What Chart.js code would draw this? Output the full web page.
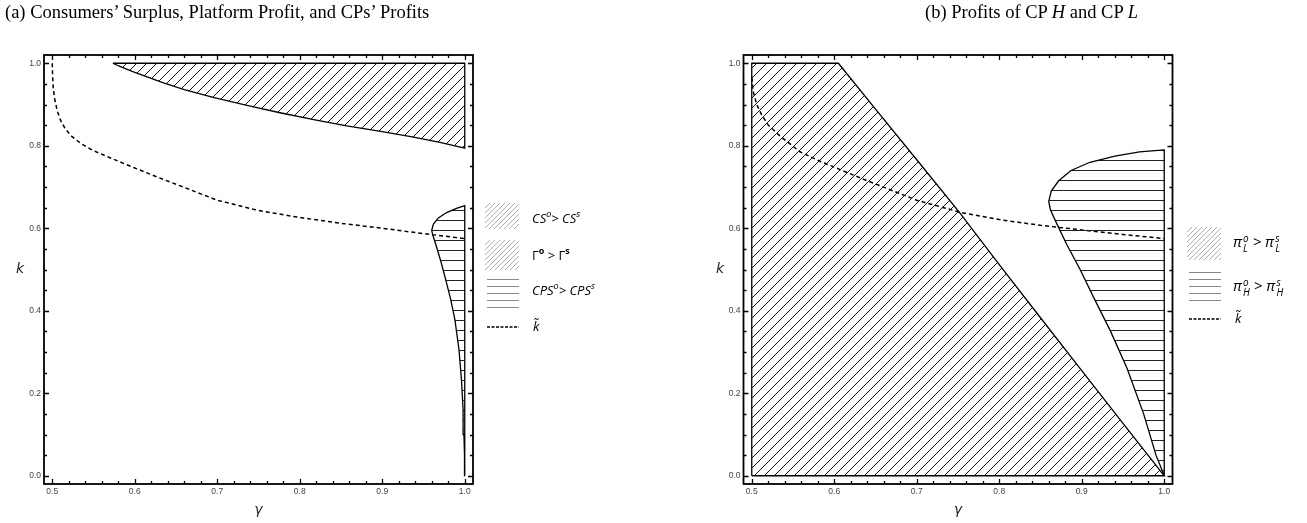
<!DOCTYPE html>
<html><head><meta charset="utf-8">
<script src="https://cdn.jsdelivr.net/npm/chart.js@4.4.0/dist/chart.umd.min.js"></script>
<style>
html,body{margin:0;padding:0;background:#fff;}
body{width:1307px;height:523px;position:relative;overflow:hidden;}
canvas{position:absolute;top:0;}
.title{position:absolute;top:1px;font-family:"Liberation Serif",serif;font-size:18.5px;line-height:22px;color:#000;white-space:nowrap;}
.leg{position:absolute;font-family:"Open Sans","DejaVu Sans",sans-serif;font-style:italic;font-size:13px;line-height:16px;color:#000;white-space:nowrap;}
.leg sup{font-size:9px;vertical-align:6px;line-height:0;}
.up{font-style:normal;}
.up sup{font-weight:bold;}
.pi{font-size:15px;}
.ss{display:inline-block;vertical-align:-5px;line-height:10px;font-size:10px;margin-left:1px;}
.ss span{display:block;}
.klab{position:absolute;font-family:"DejaVu Sans",sans-serif;font-style:italic;font-size:14px;color:#222;}
</style></head>
<body>
<canvas id="ca" width="650" height="523" style="left:0"></canvas>
<canvas id="cb" width="657" height="523" style="left:650px"></canvas>
<div class="title" style="left:5px">(a) Consumers’ Surplus, Platform Profit, and CPs’ Profits</div>
<div class="title" style="left:925px">(b) Profits of CP <i>H</i> and CP <i>L</i></div>
<div class="klab" style="left:16px;top:260px">k</div>
<div class="klab" style="left:716px;top:260px">k</div>

<canvas id="la1" width="34" height="26" style="left:485px;top:203px"></canvas>
<canvas id="la2" width="34" height="30" style="left:485px;top:240px"></canvas>
<canvas id="la3" width="34" height="32" style="left:485px;top:277px"></canvas>
<canvas id="la4" width="34" height="6" style="left:485px;top:324px"></canvas>
<div class="leg" style="left:532px;top:210px">CS<sup>o</sup>&gt; CS<sup>s</sup></div>
<div class="leg up" style="left:532px;top:247px">Γ<sup>o</sup> &gt; Γ<sup>s</sup></div>
<div class="leg" style="left:532px;top:282px">CPS<sup>o</sup>&gt; CPS<sup>s</sup></div>
<div class="leg" style="left:533px;top:318px">k&#771;</div>

<canvas id="lb1" width="34" height="33" style="left:1187px;top:227px"></canvas>
<canvas id="lb2" width="34" height="32" style="left:1187px;top:270px"></canvas>
<canvas id="lb3" width="34" height="6" style="left:1187px;top:316px"></canvas>
<div class="leg pi" style="left:1233px;top:233px">π<span class="ss"><span>o</span><span>L</span></span> &gt; π<span class="ss"><span>s</span><span>L</span></span></div>
<div class="leg pi" style="left:1233px;top:277px">π<span class="ss"><span>o</span><span>H</span></span> &gt; π<span class="ss"><span>s</span><span>H</span></span></div>
<div class="leg" style="left:1235px;top:310px">k&#771;</div>

<script>
// ---------- tick values / labels ----------
const gammaTicks = [0.5, 0.6, 0.7, 0.8, 0.9, 1.0];
const xTickLabels = ['0.5', '0.6', '0.7', '0.8', '0.9', '1.0'];
const kTicks = [0.0, 0.2, 0.4, 0.6, 0.8, 1.0];
const yTickLabels = ['0.0', '0.2', '0.4', '0.6', '0.8', '1.0'];

// ---------- panel (a) ----------
// k-tilde dashed curve
const kTildeA_gamma = [0.5, 0.5004, 0.5012, 0.5028, 0.506, 0.51, 0.516, 0.524, 0.535, 0.55, 0.57, 0.6, 0.63, 0.66, 0.7, 0.75, 0.8, 0.85, 0.9, 0.95, 1.0];
const kTildeA_k     = [1.0, 0.97, 0.94, 0.915, 0.885, 0.862, 0.84, 0.822, 0.805, 0.788, 0.771, 0.746, 0.722, 0.699, 0.668, 0.643, 0.626, 0.612, 0.600, 0.587, 0.575];
// lower boundary of CS^o > CS^s and Γ^o > Γ^s region (upper region)
const csBound_gamma = [0.5735, 0.58, 0.59, 0.6, 0.615, 0.634, 0.66, 0.695, 0.74, 0.776, 0.82, 0.857, 0.9, 0.938, 0.97, 1.0];
const csBound_k     = [1.0, 0.994, 0.986, 0.978, 0.967, 0.953, 0.936, 0.917, 0.896, 0.880, 0.862, 0.848, 0.834, 0.821, 0.808, 0.794];
// left boundary of CPS^o > CPS^s region (from k = 0 upward)
const cpsBound_gamma = [1.0, 0.9997, 0.999, 0.998, 0.996, 0.993, 0.988, 0.983, 0.977, 0.971, 0.965, 0.961, 0.960, 0.962, 0.968, 0.978, 0.99, 1.0];
const cpsBound_k     = [0.0, 0.05, 0.1, 0.16, 0.233, 0.306, 0.379, 0.427, 0.475, 0.52, 0.56, 0.585, 0.595, 0.61, 0.625, 0.638, 0.648, 0.655];

// ---------- panel (b) ----------
const kTildeB_gamma = [0.5, 0.502, 0.506, 0.512, 0.52, 0.534, 0.558, 0.582, 0.6, 0.634, 0.7, 0.754, 0.8, 0.85, 0.9, 0.95, 1.0];
const kTildeB_k     = [0.965, 0.93, 0.9, 0.875, 0.85, 0.824, 0.786, 0.763, 0.748, 0.72, 0.668, 0.638, 0.621, 0.607, 0.596, 0.585, 0.575];
// right boundary of pi_L^o > pi_L^s region (from k = 1 down to k = 0)
const piLBound_gamma = [0.605, 0.65, 0.7, 0.752, 0.8, 0.85, 0.9, 0.95, 1.0];
const piLBound_k     = [1.0, 0.889, 0.766, 0.638, 0.512, 0.383, 0.255, 0.127, 0.0];
// left boundary of pi_H^o > pi_H^s region (from k = 0 upward)
const piHBound_gamma = [1.0, 0.99, 0.975, 0.955, 0.935, 0.915, 0.898, 0.882, 0.87, 0.862, 0.86, 0.863, 0.872, 0.887, 0.91, 0.94, 0.97, 1.0];
const piHBound_k     = [0.0, 0.05, 0.15, 0.26, 0.35, 0.43, 0.5, 0.56, 0.61, 0.645, 0.665, 0.69, 0.715, 0.74, 0.76, 0.775, 0.785, 0.79];

// ---------- helpers ----------
const zip = (g, k) => g.map((v, i) => ({x: v, y: k[i]}));

function diagTile(s, color, lw) {
  const c = document.createElement('canvas'); c.width = s; c.height = s;
  const g = c.getContext('2d'); g.strokeStyle = color; g.lineWidth = lw;
  for (const o of [-s, 0, s]) { g.beginPath(); g.moveTo(o, s); g.lineTo(o + s, 0); g.stroke(); }
  return c;
}
function horizTile(s, color, lw) {
  const c = document.createElement('canvas'); c.width = 4; c.height = s;
  const g = c.getContext('2d'); g.fillStyle = color; g.fillRect(0, 0, 4, lw);
  return c;
}
const tmpCtx = document.createElement('canvas').getContext('2d');
const diagPat = tmpCtx.createPattern(diagTile(10, '#111', 1), 'repeat');
const horizPat = tmpCtx.createPattern(horizTile(10, '#222', 1), 'repeat');

// frame + inward ticks on all sides
const framePlugin = {
  id: 'frame',
  afterDatasetsDraw(chart) {
    const {ctx, chartArea: {left, right, top, bottom}, scales: {x, y}} = chart;
    ctx.save();
    ctx.strokeStyle = '#000';
    ctx.lineWidth = 1.3;
    for (let i = 0; i <= 25; i++) {
      const v = 0.5 + i * 0.02, px = Math.round(x.getPixelForValue(v)) + 0.5;
      const len = (i % 5 === 0) ? 5 : 3;
      ctx.beginPath(); ctx.moveTo(px, bottom); ctx.lineTo(px, bottom - len);
      ctx.moveTo(px, top); ctx.lineTo(px, top + len); ctx.stroke();
    }
    for (let i = 0; i <= 20; i++) {
      const v = i * 0.05, py = Math.round(y.getPixelForValue(v)) + 0.5;
      const len = (i % 4 === 0) ? 5 : 3;
      ctx.beginPath(); ctx.moveTo(left, py); ctx.lineTo(left + len, py);
      ctx.moveTo(right, py); ctx.lineTo(right - len, py); ctx.stroke();
    }
    ctx.lineWidth = 1.8;
    ctx.strokeRect(left, top, right - left, bottom - top);
    ctx.restore();
  }
};

function scales() {
  return {
    x: {
      type: 'linear', min: 0.49, max: 1.01,
      afterBuildTicks: s => { s.ticks = gammaTicks.map(v => ({value: v})); },
      afterFit: s => { s.height = 35; },
      ticks: {callback: v => xTickLabels[gammaTicks.indexOf(v)], autoSkip: false, maxRotation: 0,
              font: {family: 'Liberation Sans', size: 8.5}, color: '#444', padding: 3},
      grid: {display: false, drawTicks: false, tickLength: 0},
      border: {display: false},
      title: {display: true, text: 'γ', color: '#222',
              font: {family: 'DejaVu Sans', style: 'italic', size: 14}, padding: {top: 0, bottom: 0}}
    },
    y: {
      type: 'linear', min: -0.02, max: 1.02,
      afterBuildTicks: s => { s.ticks = kTicks.map(v => ({value: v})); },
      afterFit: s => { s.width = 30; },
      ticks: {callback: v => yTickLabels[kTicks.indexOf(v)], autoSkip: false,
              font: {family: 'Liberation Sans', size: 8.5}, color: '#444', padding: 3},
      grid: {display: false, drawTicks: false, tickLength: 0},
      border: {display: false}
    }
  };
}

function makeChart(id, datasets, padL, padR) {
  return new Chart(document.getElementById(id), {
    type: 'scatter',
    data: {datasets},
    options: {
      responsive: false, animation: false,
      layout: {padding: {left: padL, right: padR, top: 55, bottom: 4}},
      plugins: {legend: {display: false}, tooltip: {enabled: false}},
      elements: {point: {radius: 0}, line: {tension: 0}},
      scales: scales()
    },
    plugins: [framePlugin]
  });
}

// (a) datasets
const csPoly = zip(csBound_gamma, csBound_k).concat([{x: 1.0, y: 1.0}, {x: csBound_gamma[0], y: csBound_k[0]}]);
const cpsPoly = zip(cpsBound_gamma, cpsBound_k).concat([{x: 1.0, y: 0.0}]);
makeChart('ca', [
  {label: 'CS°>CS^s / Γ°>Γ^s', data: csPoly, showLine: true, fill: 'shape', backgroundColor: diagPat, borderColor: '#000', borderWidth: 1.3},
  {label: 'CPS°>CPS^s', data: cpsPoly, showLine: true, fill: 'shape', backgroundColor: horizPat, borderColor: '#000', borderWidth: 1.3},
  {label: 'k̃', data: zip(kTildeA_gamma, kTildeA_k), showLine: true, fill: false, borderColor: '#000', borderWidth: 1.5, borderDash: [4, 3]}
], 14, 177);

// (b) datasets
const piLPoly = [{x: 0.5, y: 0.0}, {x: 0.5, y: 1.0}].concat(zip(piLBound_gamma, piLBound_k), [{x: 0.5, y: 0.0}]);
const piHPoly = zip(piHBound_gamma, piHBound_k).concat([{x: 1.0, y: 0.0}]);
makeChart('cb', [
  {label: 'π_L°>π_L^s', data: piLPoly, showLine: true, fill: 'shape', backgroundColor: diagPat, borderColor: '#000', borderWidth: 1.3},
  {label: 'π_H°>π_H^s', data: piHPoly, showLine: true, fill: 'shape', backgroundColor: horizPat, borderColor: '#000', borderWidth: 1.3},
  {label: 'k̃', data: zip(kTildeB_gamma, kTildeB_k), showLine: true, fill: false, borderColor: '#000', borderWidth: 1.5, borderDash: [4, 3]}
], 63.5, 134.5);

// legend swatches
function swDiag(id) {
  const c = document.getElementById(id), g = c.getContext('2d');
  g.strokeStyle = '#999'; g.lineWidth = 0.8;
  for (let o = -c.height; o < c.width; o += 5) { g.beginPath(); g.moveTo(o, c.height); g.lineTo(o + c.height, 0); g.stroke(); }
}
function swHoriz(id) {
  const c = document.getElementById(id), g = c.getContext('2d');
  g.fillStyle = '#888';
  for (let yy = 2; yy < c.height; yy += 7) g.fillRect(2, yy, c.width - 2, 1);
}
function swDash(id) {
  const c = document.getElementById(id), g = c.getContext('2d');
  g.strokeStyle = '#000'; g.lineWidth = 1.5; g.setLineDash([3, 1.5]);
  g.beginPath(); g.moveTo(2, 3); g.lineTo(c.width, 3); g.stroke();
}
swDiag('la1'); swDiag('la2'); swHoriz('la3'); swDash('la4');
swDiag('lb1'); swHoriz('lb2'); swDash('lb3');
</script>
</body></html>
